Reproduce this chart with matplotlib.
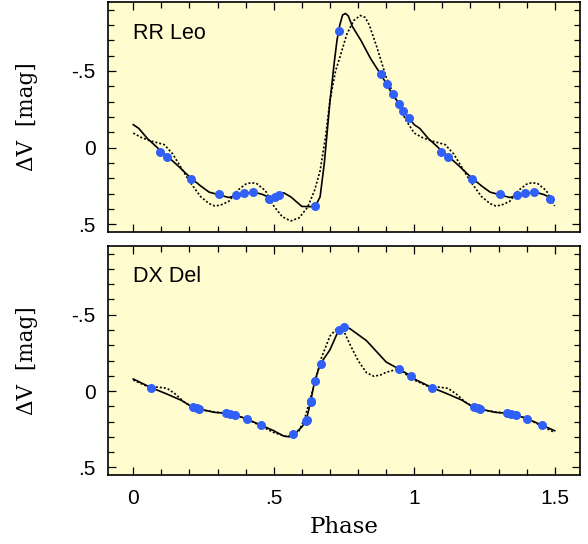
import numpy as np
import matplotlib.pyplot as plt
from matplotlib.ticker import FixedLocator, MultipleLocator

# one period of each light curve (phase, delta V)
rr_solid_ph = [0.00, 0.02, 0.05, 0.08, 0.10, 0.13, 0.16, 0.20, 0.24, 0.27, 0.30, 0.34, 0.37,
               0.40, 0.43, 0.46, 0.49, 0.515, 0.535, 0.56, 0.60, 0.63, 0.65, 0.665, 0.68,
               0.70, 0.715, 0.725, 0.735, 0.745, 0.755, 0.765, 0.78, 0.81, 0.845, 0.88,
               0.90, 0.92, 0.945, 0.96, 0.98, 1.00]
rr_solid_mag = [-0.15, -0.125, -0.06, -0.01, 0.025, 0.07, 0.12, 0.19, 0.25, 0.29, 0.305, 0.325,
                0.31, 0.297, 0.29, 0.305, 0.33, 0.31, 0.294, 0.32, 0.383, 0.385, 0.375, 0.32,
                0.10, -0.30, -0.55, -0.70, -0.80, -0.865, -0.875, -0.86, -0.79, -0.70, -0.58,
                -0.48, -0.42, -0.355, -0.29, -0.24, -0.195, -0.15]

rr_dot_ph = [0.00, 0.03, 0.06, 0.11, 0.14, 0.17, 0.20, 0.24, 0.27, 0.29, 0.31, 0.34, 0.37,
             0.40, 0.42, 0.44, 0.47, 0.50, 0.53, 0.56, 0.59, 0.62, 0.645, 0.665, 0.685,
             0.70, 0.72, 0.737, 0.76, 0.785, 0.808, 0.825, 0.84, 0.868, 0.90, 0.94, 0.97, 1.00]
rr_dot_mag = [-0.095, -0.065, -0.045, -0.02, 0.04, 0.13, 0.22, 0.32, 0.365, 0.38, 0.375, 0.35,
              0.28, 0.238, 0.228, 0.235, 0.28, 0.38, 0.45, 0.478, 0.458, 0.39, 0.28, 0.15,
              -0.08, -0.31, -0.50, -0.60, -0.74, -0.83, -0.862, -0.85, -0.80, -0.65, -0.46,
              -0.29, -0.18, -0.095]

rr_obs_ph = [0.096, 0.119, 0.207, 0.306, 0.366, 0.395, 0.425, 0.484, 0.506, 0.52, 0.647,
             0.732, 0.880, 0.902, 0.923, 0.945, 0.959, 0.983]
rr_obs_mag = [0.026, 0.062, 0.202, 0.305, 0.309, 0.298, 0.289, 0.336, 0.322, 0.311, 0.380,
              -0.762, -0.478, -0.416, -0.349, -0.288, -0.239, -0.192]

dx_solid_ph = [0.00, 0.06, 0.12, 0.17, 0.21, 0.24, 0.29, 0.33, 0.36, 0.40, 0.45, 0.50, 0.535,
               0.555, 0.575, 0.60, 0.615, 0.63, 0.645, 0.665, 0.70, 0.73, 0.75, 0.77, 0.80,
               0.83, 0.86, 0.90, 0.945, 0.99, 1.00]
dx_solid_mag = [-0.079, -0.025, 0.02, 0.06, 0.105, 0.12, 0.14, 0.145, 0.157, 0.18, 0.22, 0.26,
                0.295, 0.30, 0.28, 0.235, 0.195, 0.08, -0.06, -0.175, -0.27, -0.395, -0.42,
                -0.41, -0.37, -0.33, -0.27, -0.19, -0.145, -0.097, -0.085]

dx_dot_ph = [0.00, 0.05, 0.09, 0.12, 0.15, 0.18, 0.21, 0.25, 0.29, 0.33, 0.36, 0.40, 0.45,
             0.50, 0.545, 0.57, 0.59, 0.61, 0.63, 0.65, 0.67, 0.70, 0.725, 0.75, 0.77, 0.80,
             0.83, 0.856, 0.88, 0.90, 0.945, 0.97, 1.00]
dx_dot_mag = [-0.072, -0.03, -0.025, -0.018, 0.02, 0.07, 0.105, 0.125, 0.138, 0.145, 0.155,
              0.18, 0.225, 0.272, 0.298, 0.29, 0.26, 0.18, 0.05, -0.08, -0.22, -0.36, -0.41,
              -0.39, -0.31, -0.20, -0.12, -0.097, -0.105, -0.123, -0.145, -0.11, -0.075]

dx_obs_ph = [0.062, 0.212, 0.227, 0.235, 0.33, 0.345, 0.361, 0.403, 0.455, 0.57, 0.615,
             0.618, 0.631, 0.634, 0.647, 0.667, 0.731, 0.749, 0.945, 0.987]
dx_obs_mag = [-0.022, 0.107, 0.114, 0.118, 0.145, 0.151, 0.158, 0.182, 0.222, 0.283, 0.195,
              0.19, 0.074, 0.064, -0.064, -0.178, -0.397, -0.419, -0.145, -0.097]

names = ["RR Leo", "DX Del"]

bg = "#fffdd0"
blue = "#3060f8"


def fold(ph, mag):
    # show phase 0 .. 1.5 by repeating the cycle
    ph = np.asarray(ph)
    mag = np.asarray(mag)
    keep = ph + 1 <= 1.5
    return np.concatenate([ph, ph[keep] + 1]), np.concatenate([mag, mag[keep]])


fig = plt.figure(figsize=(5.88, 5.44), dpi=100)
ax1 = fig.add_axes([108 / 588, 1 - 232 / 544, 472 / 588, 230 / 544])
ax2 = fig.add_axes([108 / 588, 1 - 475 / 544, 472 / 588, 229 / 544])

panels = [
    (ax1, rr_solid_ph, rr_solid_mag, rr_dot_ph, rr_dot_mag, rr_obs_ph, rr_obs_mag),
    (ax2, dx_solid_ph, dx_solid_mag, dx_dot_ph, dx_dot_mag, dx_obs_ph, dx_obs_mag),
]

for k, (ax, sp, sm, dp, dm, op, om) in enumerate(panels):
    ax.set_facecolor(bg)
    x, y = fold(sp, sm)
    ax.plot(x, y, color="black", lw=1.2, zorder=3)
    x, y = fold(dp, dm)
    ax.plot(x, y, color="black", lw=1.2, ls=(0, (1.2, 1.2)), zorder=2)
    x, y = fold(op, om)
    ax.plot(x, y, "o", color=blue, ms=6.5, mec="none", zorder=4)

    ax.set_xlim(-0.09, 1.59)
    ax.set_ylim(0.55, -0.95)
    ax.xaxis.set_major_locator(FixedLocator([0, 0.5, 1, 1.5]))
    ax.xaxis.set_minor_locator(MultipleLocator(0.1))
    ax.yaxis.set_major_locator(FixedLocator([-0.5, 0, 0.5]))
    ax.yaxis.set_minor_locator(MultipleLocator(0.1))
    ax.set_yticklabels(["-.5", "0", ".5"], family="Liberation Sans", fontsize=15)
    if k == 1:
        ax.set_xticklabels(["0", ".5", "1", "1.5"], family="Liberation Sans", fontsize=15)
        ax.set_xlabel("Phase", family="DejaVu Serif", fontsize=16.5, labelpad=6)
    else:
        ax.set_xticklabels([])
    ax.tick_params(which="both", direction="in", top=True, right=True, width=0.9)
    ax.tick_params(axis="y", which="major", length=6, pad=9)
    ax.tick_params(axis="x", which="major", length=6, pad=10)
    ax.tick_params(which="minor", length=4)
    for s in ax.spines.values():
        s.set_linewidth(1.2)
    ax.set_ylabel("ΔV  [mag]", family="DejaVu Serif", fontsize=15.5, labelpad=24)
    ax.text(0.053, 0.865, names[k], transform=ax.transAxes, family="Liberation Sans",
            fontsize=15.5, va="center", ha="left")

fig.savefig("out.png", dpi=100)
